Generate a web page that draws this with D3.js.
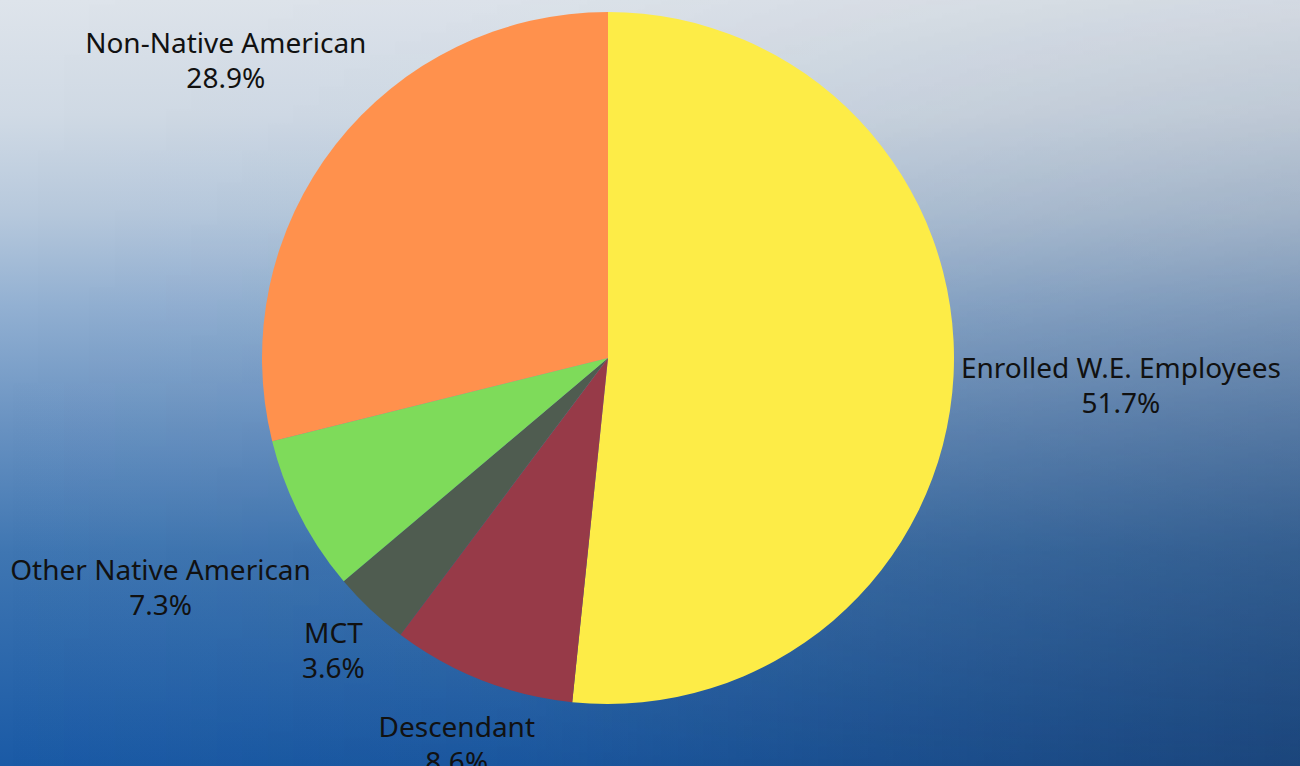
<!DOCTYPE html>
<html>
<head>
<meta charset="utf-8">
<script src="https://cdn.jsdelivr.net/npm/d3@7"></script>
<style>
  html, body { margin: 0; padding: 0; }
  svg { display: block; }
</style>
</head>
<body>
<div class="chart"></div>
<script>
var categories = ["Enrolled W.E. Employees", "Descendant", "MCT", "Other Native American", "Non-Native American"];
var shares = [51.7, 8.6, 3.6, 7.3, 28.9];
var colors = ["#fdec47", "#973a48", "#4f5c50", "#7edb5a", "#ff914d"];

var width = 1300, height = 766;
var cx = 608, cy = 358, radius = 346, labelGap = 6;

var svg = d3.select('.chart')
  .append('svg')
  .attr('width', width)
  .attr('height', height);

var defs = svg.append('defs');

// background: light gray at top fading to blue, grayer/darker on the right
var vg = defs.append('linearGradient')
  .attr('id', 'bgv')
  .attr('x1', 0).attr('y1', 0).attr('x2', 0).attr('y2', 1);
[[0, '#dee4eb'], [0.15, '#d0dae5'], [0.28, '#b6c8dc'], [0.4, '#92b0d2'], [0.55, '#6a93c2'], [0.72, '#3f76b2'], [1, '#1a5aa6']]
  .forEach(function (s) {
    vg.append('stop').attr('offset', s[0]).attr('stop-color', s[1]);
  });

var hg = defs.append('linearGradient')
  .attr('id', 'bgh')
  .attr('x1', 0).attr('y1', 0).attr('x2', 1).attr('y2', 0);
hg.append('stop').attr('offset', 0).attr('stop-color', '#1c2c48').attr('stop-opacity', 0);
hg.append('stop').attr('offset', 0.4).attr('stop-color', '#1c2c48').attr('stop-opacity', 0.08);
hg.append('stop').attr('offset', 1).attr('stop-color', '#1c2c48').attr('stop-opacity', 0.45);

var mg = defs.append('linearGradient')
  .attr('id', 'bgm')
  .attr('x1', 0).attr('y1', 0).attr('x2', 0).attr('y2', 1);
mg.append('stop').attr('offset', 0).attr('stop-color', '#fff').attr('stop-opacity', 0.12);
mg.append('stop').attr('offset', 0.35).attr('stop-color', '#fff').attr('stop-opacity', 0.35);
mg.append('stop').attr('offset', 1).attr('stop-color', '#fff').attr('stop-opacity', 1);
defs.append('mask').attr('id', 'bgmask')
  .append('rect').attr('width', width).attr('height', height).style('fill', 'url(#bgm)');

svg.append('rect')
  .attr('width', width).attr('height', height)
  .style('fill', 'url(#bgv)');
svg.append('rect')
  .attr('width', width).attr('height', height)
  .attr('mask', 'url(#bgmask)')
  .style('fill', 'url(#bgh)');

var data = categories.map(function (c, i) {
  return { name: c, value: shares[i], color: colors[i] };
});

var pie = d3.pie()
  .sort(null)
  .value(function (d) { return d.value; });

var arc = d3.arc()
  .innerRadius(0)
  .outerRadius(radius);

var g = svg.append('g')
  .attr('transform', 'translate(' + cx + ',' + cy + ')');

var arcs = pie(data);

g.selectAll('path')
  .data(arcs)
  .enter()
  .append('path')
  .attr('d', arc)
  .style('fill', function (d) { return d.data.color; });

// labels: box centre on the slice's mid-angle ray, pushed out just past the rim
var fontSize = 28, lineGap = 35;
var labels = g.selectAll('g.label')
  .data(arcs)
  .enter()
  .append('g')
  .attr('class', 'label');

labels.each(function (d) {
  var sel = d3.select(this);
  var t = sel.append('text')
    .style('font-family', "'Noto Sans', sans-serif")
    .style('font-size', fontSize + 'px')
    .style('fill', '#111')
    .style('text-anchor', 'middle');
  t.append('tspan').attr('x', 0).attr('y', 0).text(d.data.name);
  t.append('tspan').attr('x', 0).attr('y', lineGap).text(d3.format('.1f')(d.data.value) + '%');

  var bb = t.node().getBBox();
  var mid = (d.startAngle + d.endAngle) / 2;
  var dx = Math.sin(mid), dy = -Math.cos(mid);
  var dist = radius + labelGap + Math.abs(dx) * bb.width / 2 + Math.abs(dy) * bb.height / 2;
  var bx = dx * dist - (bb.x + bb.width / 2);
  var by = dy * dist - (bb.y + bb.height / 2);
  sel.attr('transform', 'translate(' + bx + ',' + by + ')');
});
</script>
</body>
</html>
